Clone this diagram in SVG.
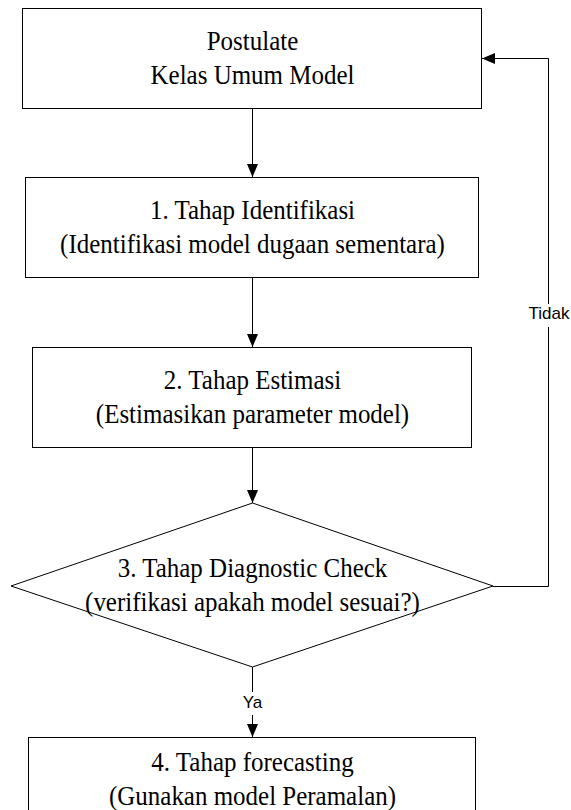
<svg xmlns="http://www.w3.org/2000/svg" width="571" height="810" viewBox="0 0 571 810">
<style>
.node{fill:#fff;stroke:#000;stroke-width:1}
.t{font-family:"Liberation Serif","Times New Roman",serif;font-size:27px;fill:#000;text-anchor:middle}
.c{fill:none;stroke:#000;stroke-width:1}
.lbl{font-family:"Liberation Sans",Arial,sans-serif;font-size:17px;fill:#000;text-anchor:middle}
.bg{fill:#fff;stroke:none}
</style>
<defs>
<marker id="ah" markerUnits="userSpaceOnUse" markerWidth="13" markerHeight="11" refX="13" refY="5.5" orient="auto">
<path d="M0,0 L13,5.5 L0,11 z" fill="#000"/>
</marker>
</defs>
<rect width="571" height="810" fill="#fff"/>
<g id="connectors">
<line class="c" x1="252.5" y1="108" x2="252.5" y2="177" marker-end="url(#ah)"/>
<line class="c" x1="252.5" y1="278" x2="252.5" y2="347" marker-end="url(#ah)"/>
<line class="c" x1="252.5" y1="448" x2="252.5" y2="503" marker-end="url(#ah)"/>
<line class="c" x1="252.5" y1="667" x2="252.5" y2="737" marker-end="url(#ah)"/>
<polyline class="c" points="493,586.5 548.5,586.5 548.5,58.5 482,58.5" marker-end="url(#ah)"/>
<rect class="bg" x="527" y="304" width="44" height="23"/>
<text class="lbl" x="549" y="319">Tidak</text>
<rect class="bg" x="240" y="692" width="25" height="23"/>
<text class="lbl" x="252.5" y="708">Ya</text>
</g>
<g id="n0">
<rect class="node" x="22.5" y="8.5" width="459" height="100"/>
<text class="t" transform="translate(252.5 50) scale(0.925 1)">Postulate</text>
<text class="t" transform="translate(252.5 84) scale(0.925 1)">Kelas Umum Model</text>
</g>
<g id="n1">
<rect class="node" x="25.5" y="177.5" width="453" height="100"/>
<text class="t" transform="translate(252.5 219) scale(0.925 1)">1. Tahap Identifikasi</text>
<text class="t" transform="translate(252.5 253) scale(0.925 1)">(Identifikasi model dugaan sementara)</text>
</g>
<g id="n2">
<rect class="node" x="32.5" y="347.5" width="439" height="100"/>
<text class="t" transform="translate(252.5 389) scale(0.925 1)">2. Tahap Estimasi</text>
<text class="t" transform="translate(252.5 423) scale(0.925 1)">(Estimasikan parameter model)</text>
</g>
<g id="n3">
<polygon class="node" points="252.5,503 493,586 252.5,667 11,586"/>
<text class="t" transform="translate(252.5 577) scale(0.925 1)">3. Tahap Diagnostic Check</text>
<text class="t" transform="translate(252.5 611) scale(0.925 1)">(verifikasi apakah model sesuai?)</text>
</g>
<g id="n4">
<rect class="node" x="28.5" y="737.5" width="447" height="90"/>
<text class="t" transform="translate(252.5 771) scale(0.925 1)">4. Tahap forecasting</text>
<text class="t" transform="translate(252.5 805) scale(0.925 1)">(Gunakan model Peramalan)</text>
</g>
</svg>
